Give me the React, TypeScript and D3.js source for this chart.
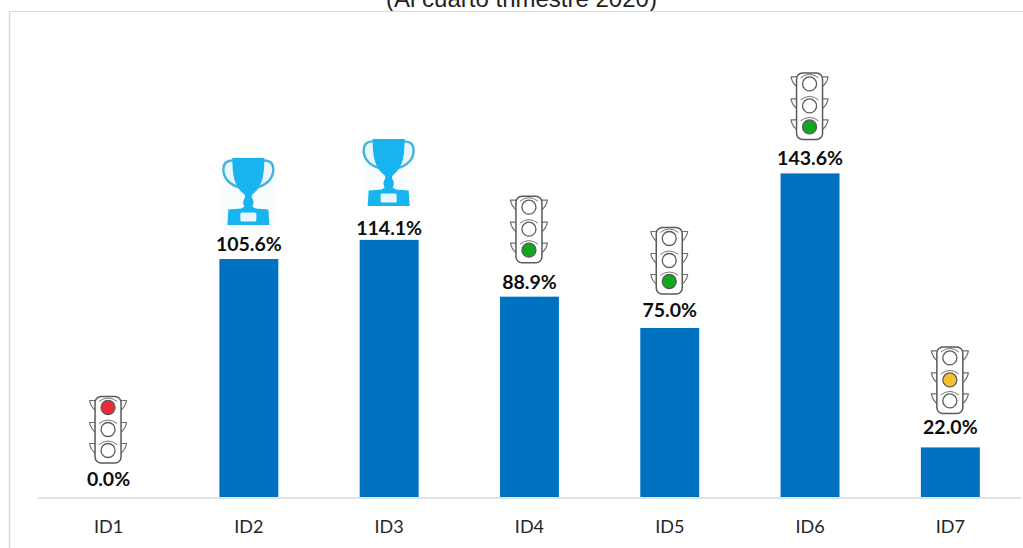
import React from "react";
import * as d3 from "d3";

const WIDTH = 1023;
const HEIGHT = 548;

const categories = ["ID1", "ID2", "ID3", "ID4", "ID5", "ID6", "ID7"];
const values = [0, 105.6, 114.1, 88.9, 75, 143.6, 22];
const statuses = ["red", "trophy", "trophy", "green", "green", "green", "yellow"];
const lampColors = { red: "#ED2A39", yellow: "#F6C02C", green: "#12A81E" };
const lampOrder = ["red", "yellow", "green"];
// the labels were placed by hand in the original, so the gap above each bar differs
const labelGaps = [11, 8, 5, 8, 11, 8, 13];

const x = d3.scaleBand().domain(categories).range([38.4, 1020.5]).paddingInner(0.58).paddingOuter(0.29);
const y = d3.scaleLinear().domain([0, 143.6]).range([497, 173.4]);

const Wing = ({ cy, side }) => (
  <path
    d={`M${side * 12.5},${cy - 7} L${side * 18.5},${cy - 7} Q${side * 17.5},${cy - 1} ${side * 12.5},${cy + 3}`}
    fill="#fff"
    stroke="#6e6e6e"
    strokeWidth={1.2}
    strokeLinejoin="round"
  />
);

const TrafficLight = ({ status }) => (
  <g>
    {[-22, 0, 21].map((cy) => (
      <g key={cy}>
        <Wing cy={cy} side={-1} />
        <Wing cy={cy} side={1} />
      </g>
    ))}
    <rect x={-13} y={-33} width={26} height={66.5} rx={6} fill="#fff" stroke="#5a5a5a" strokeWidth={1.5} />
    {[-22, 0, 21].map((cy, i) => (
      <g key={cy}>
        <path d={`M-9,${cy - 6} Q0,${cy - 13} 9,${cy - 6}`} fill="none" stroke="#777" strokeWidth={1} />
        <circle
          cx={0}
          cy={cy}
          r={7}
          fill={lampOrder[i] === status ? lampColors[status] : "#fff"}
          stroke="#5a5a5a"
          strokeWidth={1.3}
        />
      </g>
    ))}
  </g>
);

const Trophy = () => (
  <g>
    <rect x={-26} y={-33.5} width={52} height={67} fill="#FAFDFE" />
    <path
      d="M-16,-31 C-22,-31 -25,-28 -25,-22 C-25,-13 -18,-6 -8,-4 L-14,-31 Z"
      fill="#EAF6FA"
      stroke="#41B4DE"
      strokeWidth={2.4}
    />
    <path
      d="M16,-31 C22,-31 25,-28 25,-22 C25,-13 18,-6 8,-4 L14,-31 Z"
      fill="#EAF6FA"
      stroke="#41B4DE"
      strokeWidth={2.4}
    />
    <path
      d="M-16,-33.5 L16,-33.5 C16,-16 14,-5 5,2 C3,4 3,5 4,7 C6,10 5,13 4,15 L7,17 L20,18 L21,33.5 L-21,33.5 L-20,18 L-7,17 L-4,15 C-5,13 -6,10 -4,7 C-3,5 -3,4 -5,2 C-14,-5 -16,-16 -16,-33.5 Z"
      fill="#17B4F0"
    />
    <rect x={-8} y={21} width={16} height={9} rx={1.5} fill="#EAF8FD" />
  </g>
);

export default function App() {
  return (
    <svg width={WIDTH} height={HEIGHT} style={{ position: "absolute", left: 0, top: 0, background: "#fff" }}>
      <text x={521.5} y={6.5} textAnchor="middle" fontFamily="'Liberation Sans', Arial" fontSize={24} fill="#222">
        (Al cuarto trimestre 2020)
      </text>
      <line x1={9.5} x2={1023} y1={11.5} y2={11.5} stroke="#D9D9D9" strokeWidth={1} />
      <line x1={9.5} x2={9.5} y1={11.5} y2={HEIGHT} stroke="#D9D9D9" strokeWidth={1.5} />
      {categories.map((c, i) => (
        <rect
          key={c}
          x={x(c)}
          y={y(values[i])}
          width={x.bandwidth()}
          height={y(0) - y(values[i])}
          fill="#0070C0"
        />
      ))}
      <line x1={38} x2={1021} y1={498} y2={498} stroke="#D9D9D9" strokeWidth={1.5} />
      {categories.map((c, i) => {
        const cx = x(c) + x.bandwidth() / 2;
        const top = y(values[i]);
        return (
          <g key={c}>
            <text
              x={cx}
              y={top - labelGaps[i]}
              textAnchor="middle"
              fontFamily="Lato, 'Open Sans'"
              fontWeight={700}
              fontSize={19.5}
              fill="#0d0d0d"
            >
              {values[i].toFixed(1)}%
            </text>
            <g transform={`translate(${cx - 0.5},${top - 67.5})`}>
              {statuses[i] === "trophy" ? <Trophy /> : <TrafficLight status={statuses[i]} />}
            </g>
            <text
              x={cx}
              y={533}
              textAnchor="middle"
              fontFamily="Lato, 'Open Sans'"
              fontSize={18}
              fill="#262626"
            >
              {c}
            </text>
          </g>
        );
      })}
    </svg>
  );
}
